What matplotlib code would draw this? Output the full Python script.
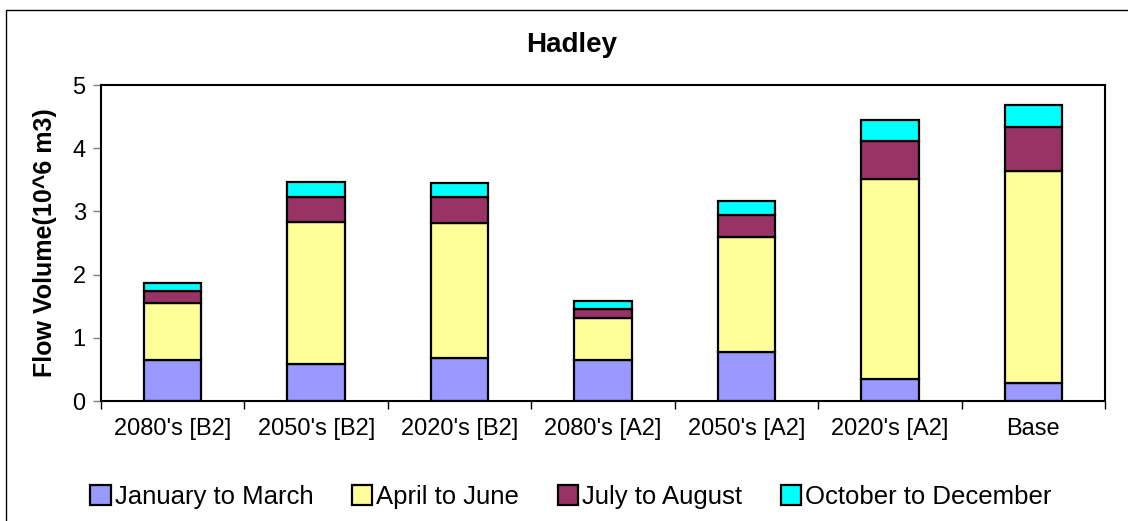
import numpy as np
import matplotlib
matplotlib.use("Agg")
import matplotlib.pyplot as plt
from matplotlib.patches import Rectangle

plt.rcParams['font.family'] = ['Liberation Sans', 'DejaVu Sans']

# data
categories = ["2080's [B2]", "2050's [B2]", "2020's [B2]", "2080's [A2]",
              "2050's [A2]", "2020's [A2]", "Base"]
jan_mar = [0.65, 0.585, 0.68, 0.65, 0.77, 0.35, 0.29]
apr_jun = [0.90, 2.245, 2.14, 0.67, 1.83, 3.17, 3.35]
jul_aug = [0.19, 0.40, 0.40, 0.14, 0.35, 0.60, 0.69]
oct_dec = [0.135, 0.24, 0.23, 0.12, 0.21, 0.32, 0.35]

series = [jan_mar, apr_jun, jul_aug, oct_dec]
labels = ["January to March", "April to June", "July to August", "October to December"]
colours = ["#9999ff", "#ffff99", "#993366", "#00ffff"]

fig = plt.figure(figsize=(11.28, 5.21), dpi=100)
ax = fig.add_axes([101 / 1128, 1 - 401 / 521, 1004 / 1128, 316 / 521])

# outer chart border (runs off right and bottom edge)
fig.patches.append(Rectangle((6 / 1128, -0.01), 1.1, 1 - 10 / 521 + 0.01,
                             transform=fig.transFigure, fill=False,
                             edgecolor="black", linewidth=1.0))

x = np.arange(len(categories))
bottom = np.zeros(len(categories))
handles = []
for vals, lab, col in zip(series, labels, colours):
    h = ax.bar(x, vals, width=0.4, bottom=bottom, color=col,
               edgecolor="black", linewidth=1.6, label=lab)
    handles.append(h)
    bottom += np.array(vals)

ax.set_xlim(-0.5, len(categories) - 0.5)
ax.set_ylim(0, 5)
ax.set_yticks(range(6))
ax.set_xticks(x)
ax.set_xticklabels(categories, fontsize=17)
ax.tick_params(axis="x", length=0, pad=12)
ax.set_xticks(np.arange(-0.5, len(categories)), minor=True)
ax.tick_params(axis="x", which="minor", length=6, width=1, color="black")
ax.tick_params(axis="y", labelsize=17, length=6, width=1, color="gray", pad=5)

for s in ax.spines.values():
    s.set_linewidth(1.5)
    s.set_color("black")

ax.set_ylabel("Flow Volume(10^6 m3)", fontsize=18, fontweight="bold", labelpad=11)
fig.text(572 / 1128, 1 - 45 / 521, "Hadley", fontsize=20, fontweight="bold",
         ha="center", va="center")

leg = fig.legend(handles=handles, labels=labels, loc="center",
                 bbox_to_anchor=(0.506, 1 - 497 / 521), ncol=4, frameon=False,
                 fontsize=18.5, handlelength=0.8, handleheight=0.8,
                 handletextpad=0.15, columnspacing=1.5)

fig.savefig("out.png", dpi=100)
